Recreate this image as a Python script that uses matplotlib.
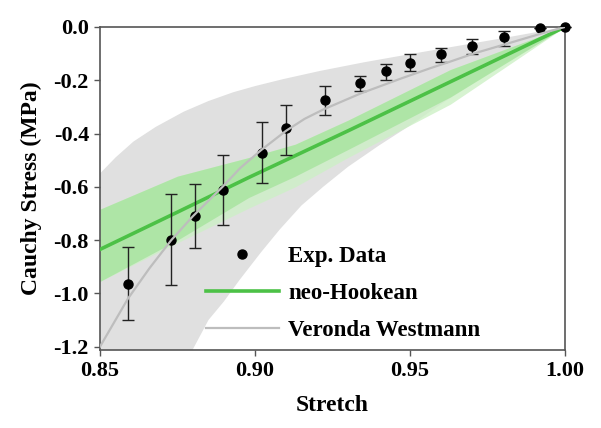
import matplotlib
matplotlib.use('Agg')
import matplotlib.pyplot as plt
from matplotlib.lines import Line2D

plt.rcParams['font.family'] = 'Liberation Serif'
plt.rcParams['font.weight'] = 'bold'

# experimental data (stretch, stress, error bar limits)
stretch = [0.859, 0.873, 0.8807, 0.8898, 0.9024, 0.910, 0.9225, 0.934, 0.9422,
           0.950, 0.960, 0.970, 0.9805, 0.992, 1.000]
stress = [-0.965, -0.800, -0.709, -0.612, -0.473, -0.380, -0.273, -0.212, -0.166,
          -0.135, -0.103, -0.072, -0.039, -0.005, 0.0]
err_top = [-0.826, -0.628, -0.588, -0.479, -0.358, -0.292, -0.220, -0.184, -0.140,
           -0.103, -0.080, -0.045, -0.014, -0.005, 0.0]
err_bot = [-1.100, -0.967, -0.829, -0.743, -0.585, -0.479, -0.329, -0.240, -0.200,
           -0.165, -0.133, -0.103, -0.070, -0.005, 0.0]

# neo-Hookean fit and band
nh_x = [0.85, 0.875, 0.898, 0.913, 0.93, 0.963, 1.0]
nh_y = [-0.835, -0.695, -0.565, -0.483, -0.39, -0.206, 0.0]
nh_up = [-0.684, -0.56, -0.49, -0.44, -0.35, -0.16, 0.0]
nh_lo = [-0.955, -0.80, -0.64, -0.56, -0.46, -0.263, 0.0]
nh_lo2 = [-0.955, -0.81, -0.68, -0.60, -0.49, -0.29, 0.0]

# Veronda Westmann fit and band
vw_x = [0.85, 0.855, 0.859, 0.866, 0.873, 0.880, 0.8897, 0.8952, 0.902, 0.910, 0.916,
        0.922, 0.934, 0.947, 0.9565, 0.963, 0.9705, 0.981, 0.992, 1.0]
vw_y = [-1.20, -1.10, -1.02, -0.905, -0.80, -0.71, -0.598, -0.53, -0.462, -0.39, -0.345,
        -0.31, -0.25, -0.194, -0.155, -0.13, -0.10, -0.064, -0.026, 0.0]
vw_up_x = [0.85, 0.855, 0.8608, 0.868, 0.877, 0.885, 0.893, 0.90, 0.909, 0.921, 0.935,
           0.95, 0.965, 0.98, 0.99, 1.0]
vw_up_y = [-0.55, -0.49, -0.43, -0.375, -0.318, -0.278, -0.245, -0.222, -0.196, -0.165,
           -0.133, -0.102, -0.072, -0.042, -0.021, 0.0]
vw_lo_x = [0.85, 0.8795, 0.885, 0.890, 0.895, 0.902, 0.908, 0.915, 0.922, 0.93, 0.94,
           0.95, 0.96, 0.97, 0.98, 0.99, 1.0]
vw_lo_y = [-1.25, -1.22, -1.10, -1.03, -0.95, -0.845, -0.76, -0.67, -0.60, -0.525,
           -0.445, -0.37, -0.29, -0.215, -0.14, -0.07, 0.0]

fig = plt.figure(figsize=(6.01, 4.28), dpi=100)
ax = fig.add_axes([0.1664, 0.182, 0.7736, 0.755])

ax.fill(vw_up_x + vw_lo_x[::-1], vw_up_y + vw_lo_y[::-1], color='#e0e0e0', lw=0, zorder=1)
ax.fill_between(nh_x, nh_lo2, nh_up, color='#cdf0c6', lw=0, alpha=0.8, zorder=2)
ax.fill_between(nh_x, nh_lo, nh_up, color='#a9e4a0', lw=0, alpha=0.85, zorder=2)
ax.plot(nh_x, nh_y, color='#4cc146', lw=2.6, zorder=3)

yerr = [[s - b for s, b in zip(stress, err_bot)], [t - s for s, t in zip(stress, err_top)]]
ax.errorbar(stretch, stress, yerr=yerr, fmt='o', color='black', ms=6.5,
            ecolor='#222222', elinewidth=1.0, capsize=4, capthick=1.0, zorder=4, clip_on=False)
ax.plot(vw_x, vw_y, color='#bdbdbd', lw=1.6, zorder=5)

ax.set_xlim(0.85, 1.0)
ax.set_ylim(-1.213, 0.0)
ax.set_xticks([0.85, 0.90, 0.95, 1.00])
ax.set_xticklabels(['0.85', '0.90', '0.95', '1.00'])
ax.set_yticks([0.0, -0.2, -0.4, -0.6, -0.8, -1.0, -1.2])
ax.set_yticklabels(['0.0', '-0.2', '-0.4', '-0.6', '-0.8', '-1.0', '-1.2'])
ax.tick_params(labelsize=16, length=4, width=1, color='#555555', pad=4)
for sp in ax.spines.values():
    sp.set_color('#555555')
    sp.set_linewidth(1.2)

ax.set_xlabel('Stretch', fontsize=17, fontweight='bold', labelpad=10)
ax.set_ylabel('Cauchy Stress (MPa)', fontsize=17, fontweight='bold', labelpad=8)

handles = [Line2D([], [], marker='o', color='black', ls='none', ms=6.5),
           Line2D([], [], color='#4cc146', lw=2.6),
           Line2D([], [], color='#bdbdbd', lw=1.6)]
ax.legend(handles, ['Exp. Data', 'neo-Hookean', 'Veronda Westmann'], frameon=False,
          fontsize=16.5, handlelength=3.2, handletextpad=0.4, labelspacing=0.7,
          loc='lower left', bbox_to_anchor=(0.183, -0.035))

fig.savefig('out.png', dpi=100)
